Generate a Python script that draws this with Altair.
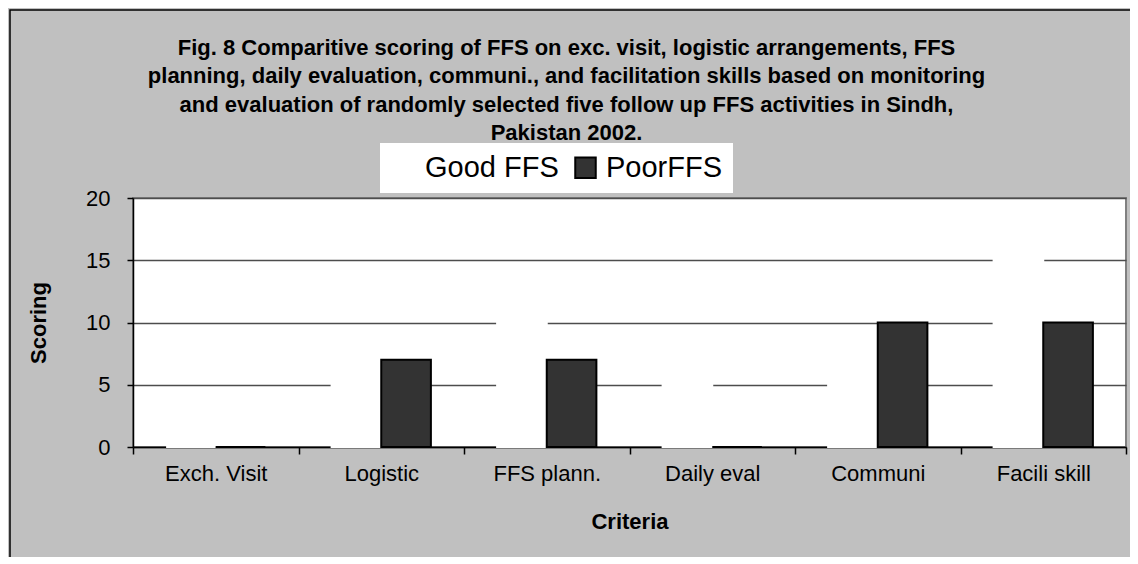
import altair as alt
import pandas as pd

categories = ["Exch. Visit", "Logistic", "FFS plann.", "Daily eval", "Communi", "Facili skill"]
good_ffs = [0, 8, 12, 8, 8, 17]
poor_ffs = [0, 7, 7, 0, 10, 10]
series_names = ["Good FFS", "PoorFFS"]
y_ticks = [0, 5, 10, 15, 20]
title_lines = [
    "Fig. 8 Comparitive scoring of FFS on exc. visit, logistic arrangements, FFS",
    "planning, daily evaluation, communi., and facilitation skills based on monitoring",
    "and evaluation of randomly selected five follow up FFS activities in Sindh,",
    "Pakistan 2002.",
]

rows = []
for s, vals in zip(series_names, [good_ffs, poor_ffs]):
    for c, v in zip(categories, vals):
        rows.append({"Criteria": c, "series": s, "value": v})
df = pd.DataFrame(rows)

FONT = "Liberation Sans"

bars = alt.Chart(df).mark_bar(strokeWidth=2).encode(
    x=alt.X(
        "Criteria:N",
        sort=categories,
        scale=alt.Scale(paddingInner=0, paddingOuter=0),
        axis=alt.Axis(
            title="Criteria",
            labelAngle=0,
            labelFontSize=22,
            labelFont=FONT,
            labelColor="black",
            tickBand="extent",
            tickSize=7,
            tickColor="black",
            tickWidth=1.5,
            domainColor="black",
            domainWidth=1.5,
            labelPadding=9,
            titleFontSize=22,
            titleFont=FONT,
            titleFontWeight="bold",
            titleColor="black",
            titlePadding=27,
            grid=False,
        ),
    ),
    xOffset=alt.XOffset(
        "series:N",
        sort=series_names,
        scale=alt.Scale(paddingInner=0, paddingOuter=0.667),
    ),
    y=alt.Y(
        "value:Q",
        scale=alt.Scale(domain=[0, 20], nice=False),
        axis=alt.Axis(
            title="Scoring",
            values=y_ticks,
            labelFontSize=22,
            labelFont=FONT,
            labelColor="black",
            tickSize=6,
            tickColor="black",
            tickWidth=1.5,
            domainColor="black",
            domainWidth=1.5,
            labelPadding=17,
            titleFontSize=22,
            titleFont=FONT,
            titleFontWeight="bold",
            titleColor="black",
            titlePadding=35,
            grid=True,
            gridColor="#4d4d4d",
            gridWidth=1.5,
        ),
    ),
    color=alt.Color(
        "series:N",
        sort=series_names,
        scale=alt.Scale(domain=series_names, range=["white", "#333333"]),
        legend=alt.Legend(
            title=None,
            orient="none",
            legendX=247,
            legendY=-55,
            direction="horizontal",
            fillColor="white",
            padding=10,
            labelFont=FONT,
            labelFontSize=29,
            labelColor="black",
            labelOffset=6,
            columnPadding=12,
            symbolType="square",
            symbolSize=420,
            symbolStrokeWidth=2,
        ),
    ),
    stroke=alt.Stroke(
        "series:N",
        sort=series_names,
        scale=alt.Scale(domain=series_names, range=["white", "black"]),
        legend=alt.Legend(title=None),
    ),
)

frame = alt.Chart(pd.DataFrame({"d": [0]})).mark_rect(
    fill=None, stroke="black", strokeWidth=1.5
).encode(
    x=alt.value(-123), x2=alt.value(1010),
    y=alt.value(-188), y2=alt.value(380),
)

chart = alt.layer(frame, bars).properties(
    width=993,
    height=249,
    autosize=alt.AutoSizeParams(type="none"),
    padding={"left": 125, "top": 190, "right": 4, "bottom": 110},
    title=alt.TitleParams(
        text=title_lines,
        font=FONT,
        fontSize=22,
        fontWeight="bold",
        color="black",
        anchor="middle",
        dx=-63,
        offset=-136,
        lineHeight=28.5,
    ),
).configure(
    background="#C0C0C0",
    font=FONT,
).configure_view(
    fill="white",
    stroke="#808080",
    strokeWidth=2,
)

chart.save("out.html", embed_options={"renderer": "svg", "actions": False})
